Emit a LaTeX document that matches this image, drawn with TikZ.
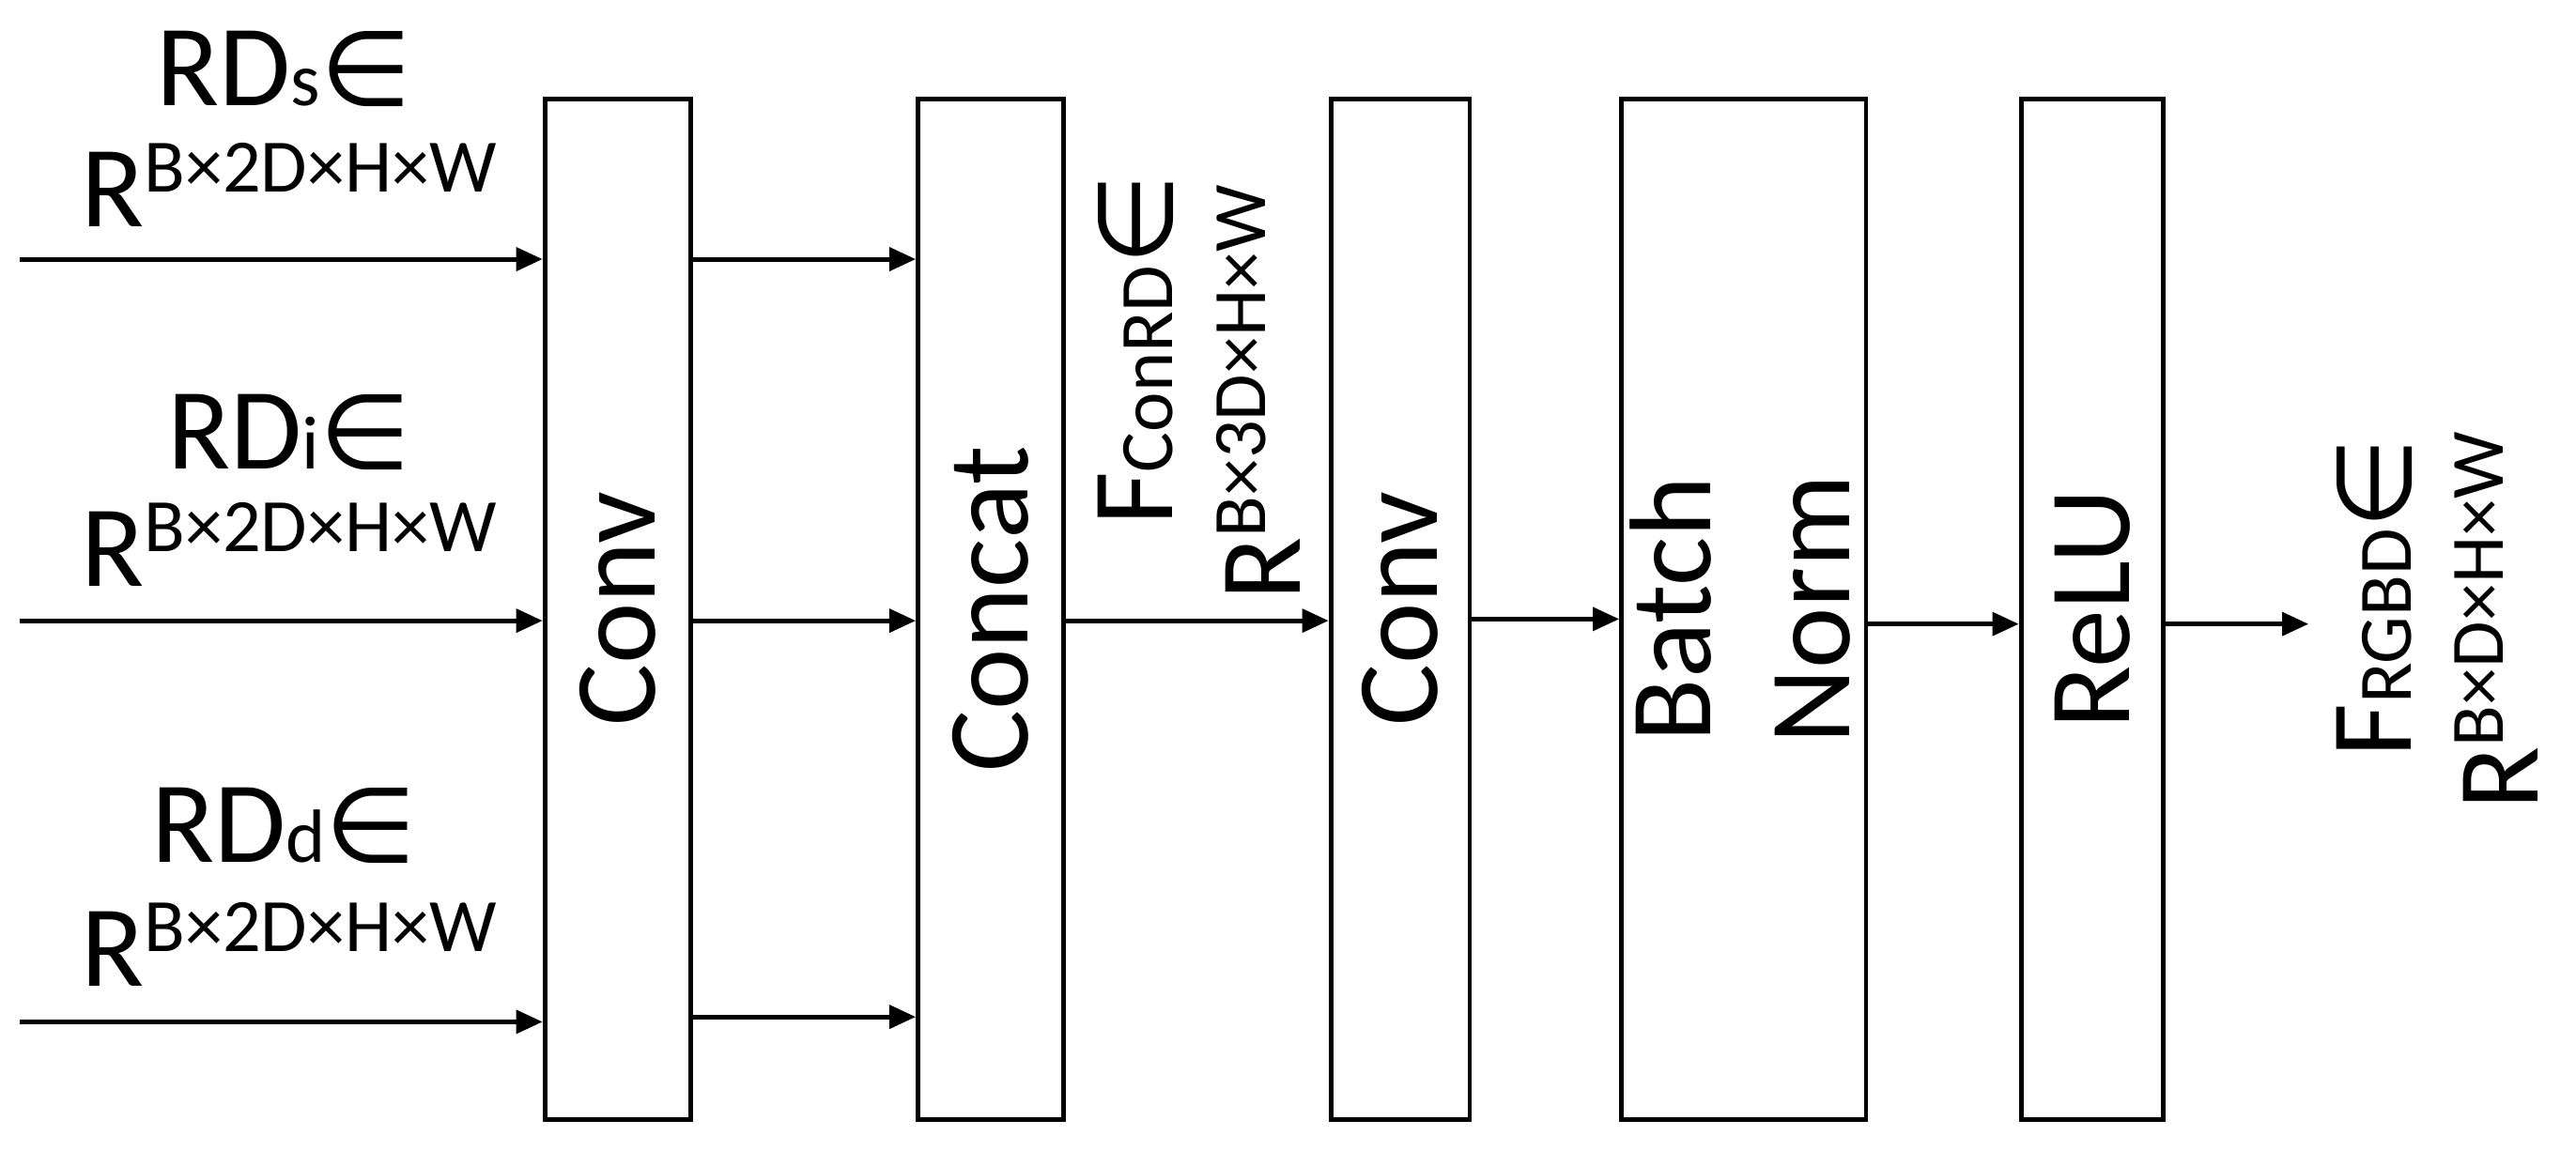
\documentclass[tikz,border=0pt]{standalone}
\usepackage{fontspec}
\setmainfont{Carlito}
\newfontfamily\symf{DejaVu Sans}
\usetikzlibrary{arrows.meta}
\newcommand{\bigf}{\fontsize{20}{24}\selectfont}
\newcommand{\sm}[1]{{\fontsize{13}{14}\selectfont #1}}
\newcommand{\inn}{{\symf\fontsize{18}{20}\selectfont ∈}}
\begin{document}
\begin{tikzpicture}[x=0.01cm,y=-0.01cm,
  blk/.style={draw,line width=0.8pt,minimum height=6.18cm,inner sep=0pt,font=\bigf},
  arr/.style={line width=0.8pt,-{Triangle[length=1.6mm,width=1.4mm]}},
  lab/.style={font=\bigf,inner sep=0pt}]
\useasboundingbox (0,0) rectangle (1560,697);
\node[blk,minimum width=0.88cm] (c1) at (374,369) {\rotatebox{90}{Conv}};
\node[blk,minimum width=0.88cm] (cc) at (600,369) {\rotatebox{90}{Concat}};
\node[blk,minimum width=0.84cm] (c2) at (848,369) {\rotatebox{90}{Conv}};
\node[blk,minimum width=1.48cm] (bn) at (1056,369) {};
\node[lab,rotate=90] (bn1) at (1012,369) {Batch};
\node[lab,rotate=90] (bn2) at (1098,369) {Norm};
\node[blk,minimum width=0.86cm] (re) at (1267,369) {\rotatebox{90}{ReLU}};
\coordinate (i1) at (12,157); \coordinate (i2) at (12,376); \coordinate (i3) at (12,619);
\coordinate (o) at (1398,378);
\draw[arr] (i1) -- (i1 -| c1.west);
\draw[arr] (i2) -- (i2 -| c1.west);
\draw[arr] (i3) -- (i3 -| c1.west);
\foreach \y in {157,376,616} \draw[arr] (c1.east |- 0,\y) -- (cc.west |- 0,\y);
\draw[arr] (cc.east |- 0,376) -- (c2.west |- 0,376);
\draw[arr] (c2.east |- 0,375) -- (bn.west |- 0,375);
\draw[arr] (bn.east |- 0,378) -- (re.west |- 0,378);
\draw[arr] (re.east |- o) -- (o);
\node[lab] (t1) at (172,42) {RD\sm{s}\inn};
\node[lab] (u1) at (175,112) {R\raisebox{6pt}{\sm{B×2D×H×W}}};
\node[lab] (t2) at (175,262) {RD\sm{i}\inn};
\node[lab] (u2) at (175,330) {R\raisebox{6pt}{\sm{B×2D×H×W}}};
\node[lab] (t3) at (172,500) {RD\sm{d}\inn};
\node[lab] (u3) at (175,572) {R\raisebox{6pt}{\sm{B×2D×H×W}}};
\node[lab,rotate=90] (f1) at (688,212) {F\sm{ConRD}\inn};
\node[lab,rotate=90] (f2) at (762,238) {R\raisebox{6pt}{\sm{B×3D×H×W}}};
\node[lab,rotate=90] (g1) at (1438,362) {F\sm{RGBD}\inn};
\node[lab,rotate=90] (g2) at (1512,376) {R\raisebox{6pt}{\sm{B×D×H×W}}};
\end{tikzpicture}
\end{document}
